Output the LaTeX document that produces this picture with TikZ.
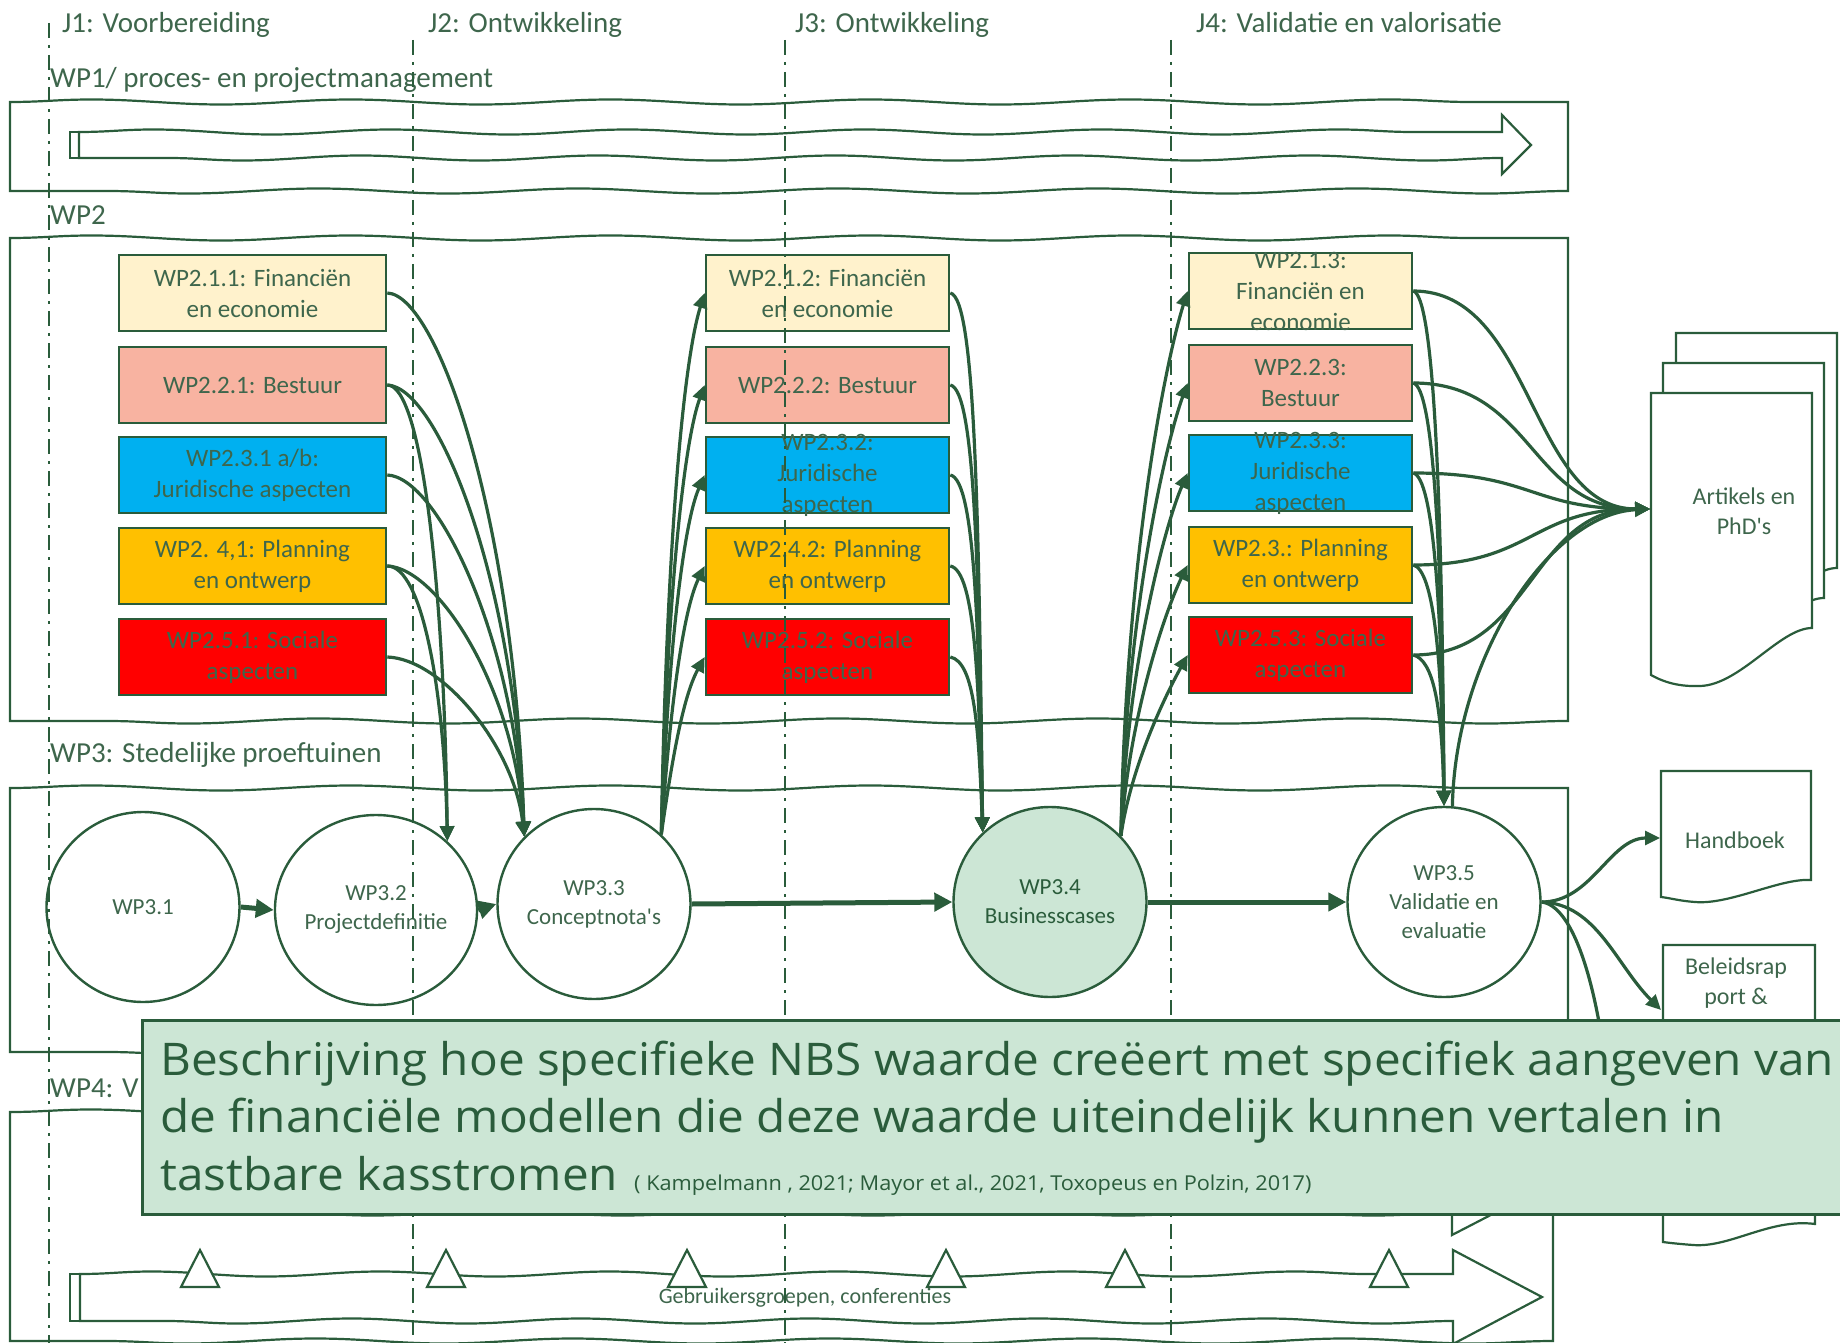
\documentclass[tikz,border=0pt]{standalone}
\usepackage{fontspec}
\setmainfont{Carlito}
\newfontfamily\osans[FakeStretch=1.06]{Open Sans}
\usetikzlibrary{arrows.meta,shapes.geometric,decorations.pathmorphing}
\definecolor{dg}{RGB}{42,92,59}
\definecolor{txt}{RGB}{62,102,76}
\definecolor{cream}{HTML}{FFF2CC}
\definecolor{salmon}{HTML}{F8B3A1}
\definecolor{skyb}{HTML}{00B0F0}
\definecolor{amber}{HTML}{FFC000}
\definecolor{redb}{HTML}{FF0000}
\definecolor{lgreen}{HTML}{CCE6D5}
\tikzset{
  wl/.style={decoration={snake, segment length=#1, amplitude=2.5pt}},
  plain/.style={draw=dg, line width=2.2pt},
  wbox/.style={draw=dg, line width=2.6pt, minimum height=76pt, inner sep=0pt},
  colA/.style={wbox, minimum width=267pt},
  colB/.style={wbox, minimum width=243pt},
  colC/.style={wbox, minimum width=223pt},
  btxt/.style={text=txt, font=\fontsize{25}{31}\selectfont, align=center, inner sep=0pt},
  egg/.style={ellipse, draw=dg, line width=2.4pt, fill=white, minimum width=193pt, minimum height=190pt, inner sep=0pt, align=center, text=txt, font=\fontsize{23}{29}\selectfont},
  conn/.style={draw=dg, line width=3.2pt, -{Triangle[length=15pt,width=14pt]}},
  bigarrow/.style={draw=dg, line width=5pt, -{Triangle[length=18pt,width=18pt]}},
  vdash/.style={draw=dg, line width=2.4pt, dash pattern=on 15pt off 7pt on 3pt off 7pt},
  lbl/.style={text=txt, font=\fontsize{29}{34}\selectfont, inner sep=0pt, anchor=base west},
  doc/.style={draw=dg, line width=2.2pt, fill=white},
  dtxt/.style={text=txt, font=\fontsize{24}{30}\selectfont, align=center, inner sep=0pt},
  tri/.style={draw=dg, line width=2.2pt, fill=white},
  ctxt/.style={text=dg, font=\osans\fontsize{45}{57}\selectfont, inner sep=0pt, anchor=base west},
}
\begin{document}
\begin{tikzpicture}[x=1pt,y=-1pt]
\useasboundingbox (0,0) rectangle (1840,1343);

% ---------- top labels ----------
\node[lbl] (j1) at (62,33) {J1: Voorbereiding};
\node[lbl] (j2) at (428,33) {J2: Ontwikkeling};
\node[lbl] (j3) at (795,33) {J3: Ontwikkeling};
\node[lbl] (j4) at (1196,33) {J4: Validatie en valorisatie};

% ---------- WP1 ----------
\node[lbl] (l1) at (50,88) {WP1/ proces- en projectmanagement};
\draw[plain] (10,102) decorate[wl=259.66pt]{-- (1568,102)} -- (1568,191) decorate[wl=259.66pt]{-- (10,191)} -- cycle;
\draw[plain] (79,132) decorate[wl=237.16pt]{-- (1502,132)} -- (1502,115) -- (1531,145) -- (1502,174) -- (1502,158) decorate[wl=237.16pt]{-- (79,158)} -- cycle;
\draw[plain] (70,132) rectangle (79,158);

% ---------- WP2 ----------
\node[lbl] (l2) at (50,225) {WP2};
\draw[plain] (10,238) decorate[wl=259.66pt]{-- (1568,238)} -- (1568,721) decorate[wl=259.66pt]{-- (10,721)} -- cycle;

\node[colA, fill=cream]  (a1) at (252.5,293) {};
\node[colA, fill=salmon] (a2) at (252.5,385) {};
\node[colA, fill=skyb]   (a3) at (252.5,475) {};
\node[colA, fill=amber]  (a4) at (252.5,566) {};
\node[colA, fill=redb]   (a5) at (252.5,657) {};
\node[btxt] (a1t) at (a1.center) {WP2.1.1: Financiën\\en economie};
\node[btxt] (a2t) at (a2.center) {WP2.2.1: Bestuur};
\node[btxt] (a3t) at (a3.center) {WP2.3.1 a/b:\\Juridische aspecten};
\node[btxt] (a4t) at (a4.center) {WP2. 4,1: Planning\\en ontwerp};
\node[btxt] (a5t) at (a5.center) {WP2.5.1: Sociale\\aspecten};

\node[colB, fill=cream]  (b1) at (827.5,293) {};
\node[colB, fill=salmon] (b2) at (827.5,385) {};
\node[colB, fill=skyb]   (b3) at (827.5,475) {};
\node[colB, fill=amber]  (b4) at (827.5,566) {};
\node[colB, fill=redb]   (b5) at (827.5,657) {};
\node[btxt] (b1t) at (b1.center) {WP2.1.2: Financiën\\en economie};
\node[btxt] (b2t) at (b2.center) {WP2.2.2: Bestuur};
\node[btxt] (b3t) at (b3.center) {WP2.3.2:\\Juridische\\aspecten};
\node[btxt] (b4t) at (b4.center) {WP2.4.2: Planning\\en ontwerp};
\node[btxt] (b5t) at (b5.center) {WP2.5.2: Sociale\\aspecten};

\node[colC, fill=cream]  (c1) at (1300.5,291) {};
\node[colC, fill=salmon] (c2) at (1300.5,383) {};
\node[colC, fill=skyb]   (c3) at (1300.5,473) {};
\node[colC, fill=amber]  (c4) at (1300.5,565) {};
\node[colC, fill=redb]   (c5) at (1300.5,655) {};
\node[btxt] (c1t) at (c1.center) {WP2.1.3:\\Financiën en\\economie};
\node[btxt] (c2t) at (c2.center) {WP2.2.3:\\Bestuur};
\node[btxt] (c3t) at (c3.center) {WP2.3.3:\\Juridische\\aspecten};
\node[btxt] (c4t) at (c4.center) {WP2.3.: Planning\\en ontwerp};
\node[btxt] (c5t) at (c5.center) {WP2.5.3: Sociale\\aspecten};

% ---------- WP3 ----------
\node[lbl] (l3) at (50,762) {WP3: Stedelijke proeftuinen};
\draw[plain] (10,788) decorate[wl=259.66pt]{-- (1568,788)} -- (1568,1052) decorate[wl=259.66pt]{-- (10,1052)} -- cycle;

\node[egg] (e1) at (143,907) {WP3.1};
\node[egg] (e2) at (376,910) {WP3.2\\Projectdefinitie};
\node[egg] (e3) at (594,904) {WP3.3\\Conceptnota\textquotesingle s};
\node[egg, fill=lgreen, text=dg] (e4) at (1050,902) {WP3.4\\Businesscases};
\node[egg] (e5) at (1444,902) {WP3.5\\Validatie en\\evaluatie};

\draw[bigarrow] (e1.east) -- (e2.west);
\draw[bigarrow] (e2.east) -- (e3.west);
\draw[bigarrow] (e3.east) -- (e4.west);
\draw[bigarrow] (e4.east) -- (e5.west);

% ---------- documents ----------
\draw[doc] (1676,333) -- (1837,333) -- (1837,568) .. controls (1805,568) and (1765,625) .. (1725,626) .. controls (1700,627) and (1685,620) .. (1676,615) -- cycle;
\draw[doc] (1663,363) -- (1824,363) -- (1824,598) .. controls (1792,598) and (1752,655) .. (1712,656) .. controls (1687,657) and (1672,650) .. (1663,645) -- cycle;
\draw[doc] (1651,393) -- (1812,393) -- (1812,628) .. controls (1780,628) and (1740,685) .. (1700,686) .. controls (1675,687) and (1660,680) .. (1651,675) -- cycle;
\node[dtxt] (artt) at (1744,511) {Artikels en\\PhD\textquotesingle s};
\coordinate (artin) at (1650,509);

\draw[doc] (1661,771) -- (1811,771) -- (1811,880) .. controls (1780,878) and (1730,905) .. (1695,902) .. controls (1680,901) and (1670,898) .. (1661,897) -- cycle;
\node[dtxt] (handt) at (1735,840) {Handboek};
\coordinate (handin) at (1660,838);

\draw[doc] (1663,945) -- (1815,945) -- (1815,1224) .. controls (1770,1218) and (1730,1248) .. (1693,1245) .. controls (1680,1244) and (1670,1243) .. (1663,1242) -- cycle;
\node[dtxt] (belt) at (1736,983) {Beleidsrap\\port \&};
\coordinate (belin) at (1661,1010);
\coordinate (hid) at (1612,1150);

% ---------- connectors col 1 ----------
\draw[conn] (a1.east) .. controls +(50,2) and +(-10,-320) .. (e3.136);
\draw[conn] (a2.east) .. controls +(35,0) and +(-3,-250) .. (e2.44);
\draw[conn] (a2.east) .. controls +(50,2) and +(-10,-260) .. (e3.136);
\draw[conn] (a3.east) .. controls +(50,2) and +(-10,-200) .. (e3.136);
\draw[conn] (a4.east) .. controls +(35,0) and +(-3,-150) .. (e2.44);
\draw[conn] (a4.east) .. controls +(50,2) and +(-10,-150) .. (e3.136);
\draw[conn] (a5.east) .. controls +(55,2) and +(-10,-90) .. (e3.136);

% ---------- connectors col 2 ----------
\draw[conn] (e3.46) .. controls +(5,-280) and +(-22,70) .. (b1.west);
\draw[conn] (e3.46) .. controls +(5,-220) and +(-22,60) .. (b2.west);
\draw[conn] (e3.46) .. controls +(6,-170) and +(-22,50) .. (b3.west);
\draw[conn] (e3.46) .. controls +(8,-120) and +(-22,45) .. (b4.west);
\draw[conn] (e3.46) .. controls +(10,-70) and +(-22,40) .. (b5.west);
\draw[conn] (b1.east) .. controls +(25,5) and +(-4,-320) .. (e4.134);
\draw[conn] (b2.east) .. controls +(25,5) and +(-4,-260) .. (e4.134);
\draw[conn] (b3.east) .. controls +(25,5) and +(-4,-200) .. (e4.134);
\draw[conn] (b4.east) .. controls +(25,5) and +(-4,-150) .. (e4.134);
\draw[conn] (b5.east) .. controls +(25,5) and +(-4,-100) .. (e4.134);

% ---------- connectors col 3 ----------
\draw[conn] (e4.43) .. controls +(5,-280) and +(-22,70) .. (c1.west);
\draw[conn] (e4.43) .. controls +(5,-220) and +(-22,60) .. (c2.west);
\draw[conn] (e4.43) .. controls +(6,-170) and +(-22,50) .. (c3.west);
\draw[conn] (e4.43) .. controls +(8,-120) and +(-22,45) .. (c4.west);
\draw[conn] (e4.43) .. controls +(10,-70) and +(-22,40) .. (c5.west);
\draw[conn] (c1.east) .. controls +(20,5) and +(-2,-320) .. (e5.north);
\draw[conn] (c2.east) .. controls +(20,5) and +(-2,-260) .. (e5.north);
\draw[conn] (c3.east) .. controls +(20,5) and +(-2,-200) .. (e5.north);
\draw[conn] (c4.east) .. controls +(20,5) and +(-2,-150) .. (e5.north);
\draw[conn] (c5.east) .. controls +(20,5) and +(-2,-100) .. (e5.north);
\draw[conn] (c1.east) .. controls +(120,0) and +(-120,0) .. (artin);
\draw[conn] (c2.east) .. controls +(120,0) and +(-120,0) .. (artin);
\draw[conn] (c3.east) .. controls +(120,0) and +(-120,0) .. (artin);
\draw[conn] (c4.east) .. controls +(120,0) and +(-120,0) .. (artin);
\draw[conn] (c5.east) .. controls +(120,0) and +(-120,0) .. (artin);
\draw[conn] (e5.85) .. controls +(3,-150) and +(-100,5) .. (artin);

\draw[conn] (e5.east) .. controls +(50,0) and +(-50,0) .. (handin);
\draw[conn] (e5.east) .. controls +(55,2) and +(-45,-45) .. (belin);
\draw[conn] (e5.east) .. controls +(40,5) and +(-5,-120) .. (hid);

% ---------- WP4 ----------
\node[lbl] (l4) at (50,1097) {WP4: V};
\draw[plain] (10,1112) decorate[wl=257.16pt]{-- (1553,1112)} -- (1553,1341) decorate[wl=257.16pt]{-- (10,1341)} -- cycle;
\draw[plain] (200,1166) decorate[wl=250.4pt]{-- (1452,1166)} -- (1452,1142) -- (1541,1189) -- (1452,1235) -- (1452,1213) decorate[wl=250.4pt]{-- (200,1213)} -- cycle;
\draw[plain] (80,1274) decorate[wl=228.83pt]{-- (1453,1274)} -- (1453,1250) -- (1542,1297) -- (1453,1344) -- (1453,1321) decorate[wl=228.83pt]{-- (80,1321)} -- cycle;
\draw[plain] (70,1274) rectangle (80,1321);
\foreach \tx in {200,446,687,946,1125,1389}
  \draw[tri] (\tx-19,1287) -- (\tx,1250) -- (\tx+19,1287) -- cycle;
\node[text=txt, font=\fontsize{22}{26}\selectfont, inner sep=0pt] (geb) at (805,1298) {Gebruikersgroepen, conferenties};

% ---------- phase lines ----------
\draw[vdash] (49,23) -- (49,1343);
\draw[vdash] (413,40) -- (413,1343);
\draw[vdash] (785,40) -- (785,1343);
\draw[vdash] (1171,40) -- (1171,1343);

% ---------- callout ----------
\node[draw=dg, fill=lgreen, line width=2.5pt, anchor=north west, inner sep=0pt, minimum width=1710pt, minimum height=194pt] (call) at (141,1019) {};
\node[ctxt] (q1) at (160,1075) {Beschrijving hoe specifieke NBS waarde creëert met specifiek aangeven van};
\node[ctxt] (q2) at (160,1132) {de financiële modellen die deze waarde uiteindelijk kunnen vertalen in};
\node[ctxt] (q3) at (160,1190) {tastbare kasstromen};
\node[text=dg, font=\osans\fontsize{20.5}{24}\selectfont, inner sep=0pt, anchor=base west] (qcite) at (634,1190) {( Kampelmann , 2021; Mayor et al., 2021, Toxopeus en Polzin, 2017)};
\end{tikzpicture}
\end{document}
